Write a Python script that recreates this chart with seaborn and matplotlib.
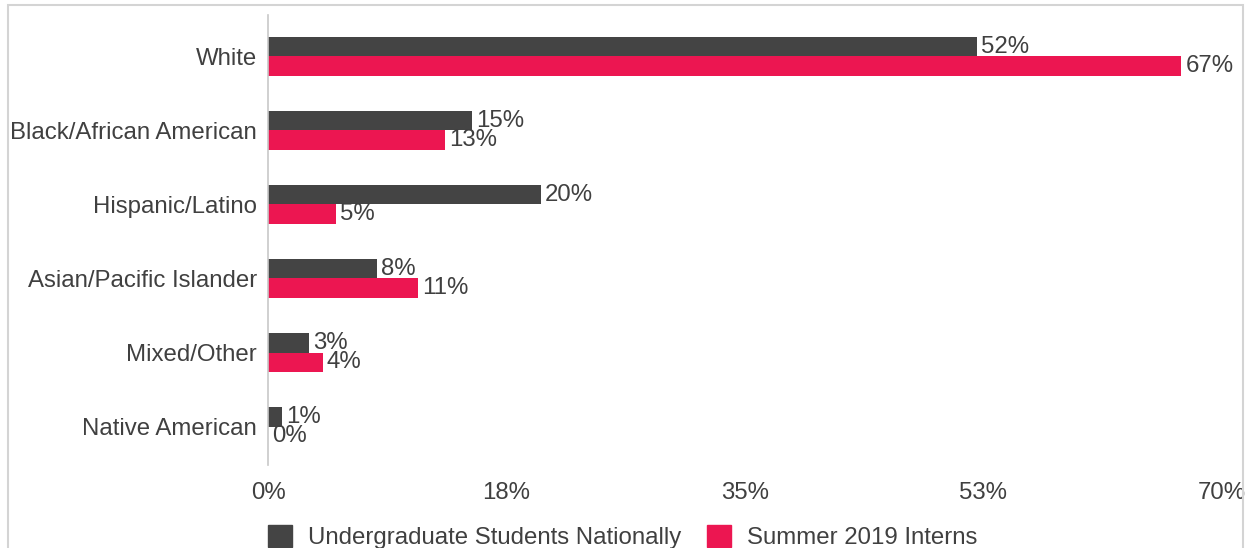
import matplotlib
matplotlib.use("Agg")
import matplotlib.pyplot as plt
from matplotlib.patches import Rectangle
import pandas as pd
import seaborn as sns

categories = ["White", "Black/African American", "Hispanic/Latino",
              "Asian/Pacific Islander", "Mixed/Other", "Native American"]
undergrad = [52, 15, 20, 8, 3, 1]
interns = [67, 13, 5, 11, 4, 0]
series_names = ["Undergraduate Students Nationally", "Summer 2019 Interns"]
x_ticks = [0, 17.5, 35, 52.5, 70]
x_tick_labels = ["0%", "18%", "35%", "53%", "70%"]

df = pd.DataFrame({
    "category": categories * 2,
    "value": undergrad + interns,
    "series": [series_names[0]] * len(categories) + [series_names[1]] * len(categories),
})

sns.set_theme(style="white")
plt.rcParams["font.family"] = ["Liberation Sans", "DejaVu Sans"]

text_color = "#404040"
fs = 17.3
palette = {series_names[0]: "#444444", series_names[1]: "#EC1651"}

fig = plt.figure(figsize=(12.48, 5.48), dpi=100)
ax = fig.add_axes([268 / 1248, 1 - 465 / 548, (1222 - 268) / 1248, (465 - 15) / 548])

sns.barplot(data=df, y="category", x="value", hue="series", order=categories,
            hue_order=series_names, palette=palette, orient="h", width=0.52,
            saturation=1, linewidth=0, ax=ax, legend=False)

for container in ax.containers:
    vals = container.datavalues
    ax.bar_label(container, labels=[f"{v:.0f}%" for v in vals], padding=3,
                 fontsize=fs, color=text_color)

ax.set_xlim(0, 70)
ax.set_ylim(5.52, -0.56)
ax.set_xticks(x_ticks)
ax.set_xticklabels(x_tick_labels)
ax.set_xlabel("")
ax.set_ylabel("")
ax.tick_params(axis="x", length=0, pad=12, labelsize=fs, labelcolor=text_color)
ax.tick_params(axis="y", length=0, pad=8, labelsize=fs, labelcolor=text_color)
for side in ["top", "right", "bottom"]:
    ax.spines[side].set_visible(False)
ax.spines["left"].set_color("#c8c8c8")
ax.spines["left"].set_linewidth(1.2)
ax.grid(False)

handles = [Rectangle((0, 0), 1, 1, color=palette[s]) for s in series_names]
fig.legend(handles, series_names, loc="center", bbox_to_anchor=(0.499, 1 - 537 / 548),
           ncol=2, frameon=False, fontsize=fs, handlelength=1.0, handleheight=1.0,
           handletextpad=0.65, columnspacing=1.1, labelcolor=text_color)

fig.patches.append(Rectangle((8 / 1248, -0.02), (1243 - 8) / 1248, 1 - 5 / 548 + 0.02,
                             transform=fig.transFigure, fill=False,
                             edgecolor="#d4d4d4", linewidth=1.5))

fig.savefig("out.png", dpi=100)
